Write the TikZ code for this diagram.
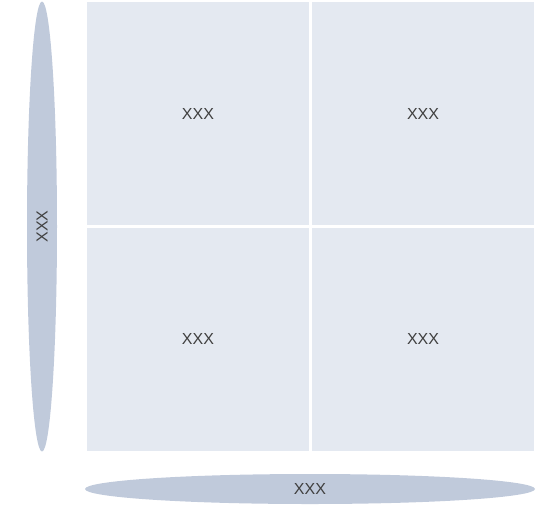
\documentclass[tikz,border=0pt]{standalone}
\usepackage{fontspec}
\setmainfont{Liberation Sans}
\usetikzlibrary{
  positioning,
  shapes.geometric,
}
\definecolor{cellFill}{HTML}{E4E9F1}
\definecolor{axisFill}{HTML}{C0CADB}
\definecolor{textMain}{HTML}{404040}
\tikzset{
  cellbox/.style={
    rectangle, fill=cellFill, draw=none,
    minimum width=222pt, minimum height=223pt, inner sep=0pt,
    font=\fontsize{16}{19}\selectfont, text=textMain,
  },
  axisoval/.style={
    ellipse, fill=axisFill, draw=none, inner sep=0pt,
    font=\fontsize{16}{19}\selectfont, text=textMain,
  },
}

\begin{document}
\begin{tikzpicture}[x=1pt, y=-1pt]

  \useasboundingbox (0, 0) rectangle (537, 509);

  % Quadrants
  \node[cellbox] (topLeft) at (198, 113.5) {XXX};
  \node[cellbox] (topRight) at (423, 113.5) {XXX};
  \node[cellbox] (botLeft) at (198, 339) {XXX};
  \node[cellbox] (botRight) at (423, 339) {XXX};

  % Axes
  \node[axisoval, minimum width=30pt, minimum height=450pt] (yAxis) at (42, 226.5) {};
  \node[rotate=90, font=\fontsize{16}{19}\selectfont, text=textMain] (yLabel) at (yAxis.center) {XXX};
  \node[axisoval, minimum width=450pt, minimum height=30pt] (xAxis) at (310, 489) {XXX};

\end{tikzpicture}
\end{document}
